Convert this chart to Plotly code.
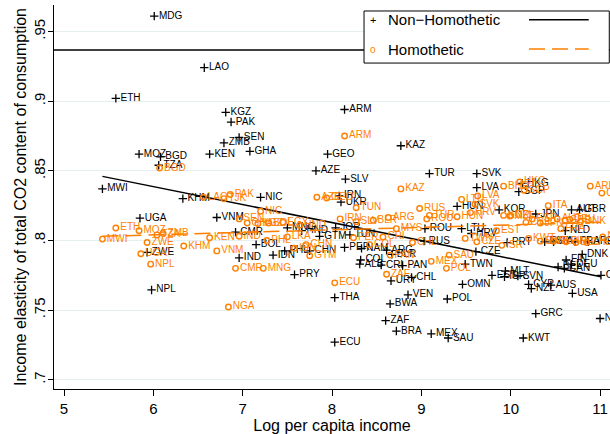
import plotly.graph_objects as go

# Non-homothetic elasticities (black +)
nh_country = ["MDG", "LAO", "ETH", "KGZ", "PAK", "SEN", "ZMB", "GHA", "KEN", "MOZ",
              "BGD", "TZA", "MWI", "ARM", "KAZ", "GEO", "AZE", "SLV", "TUR", "SVK",
              "LVA", "HKG", "SGP", "NIC", "KHM", "IRN", "UKR", "HUN", "KOR", "JPN",
              "AUT", "GBR", "UGA", "VNM", "MNG", "HND", "JOR", "ROU", "LTU", "NLD",
              "CMR", "TUN", "GTM", "HRV", "RUS", "PRT", "ESP", "ITA", "FRA", "ARE",
              "BOL", "PER", "ARG", "PHL", "CHN", "CZE", "ZWE", "NAM", "DNK", "IDN",
              "BLR", "IND", "FIN", "COL", "CRI", "TWN", "DEU", "PAN", "ALB", "BEL",
              "CAN", "MLT", "PRY", "CHE", "EST", "SVN", "ISR", "CHL", "URY", "OMN",
              "CYP", "AUS", "NZL", "NPL", "USA", "VEN", "THA", "POL", "BWA", "GRC",
              "NOR", "ZAF", "BRA", "MEX", "SAU", "KWT", "ECU"]
nh_income = [6.01, 6.57, 5.58, 6.81, 6.87, 6.96, 6.79, 7.08, 6.63, 5.84,
             6.08, 6.06, 5.43, 8.14, 8.77, 7.95, 7.82, 8.15, 9.09, 9.62,
             9.62, 10.13, 10.09, 7.20, 6.33, 8.08, 8.10, 9.40, 9.87, 10.28,
             10.68, 10.77, 5.85, 6.71, 7.50, 7.66, 8.04, 9.04, 9.45, 10.61,
             6.92, 8.20, 7.86, 9.56, 9.03, 9.96, 10.38, 10.48, 10.72, 10.87,
             7.15, 8.14, 8.61, 7.47, 7.75, 9.61, 5.93, 8.33, 10.80, 7.34,
             8.67, 6.96, 10.62, 8.32, 8.55, 9.49, 10.68, 8.79, 8.31, 10.53,
             10.60, 9.94, 7.58, 11.01, 9.79, 10.08, 9.93, 8.89, 8.66, 9.46,
             10.20, 10.45, 10.23, 5.98, 10.69, 8.85, 8.03, 9.29, 8.65, 10.28,
             11.00, 8.60, 8.72, 9.11, 9.30, 10.14, 8.03]
nh_elast = [0.961, 0.924, 0.902, 0.892, 0.885, 0.874, 0.870, 0.864, 0.862, 0.862,
            0.860, 0.854, 0.837, 0.894, 0.868, 0.862, 0.850, 0.844, 0.848, 0.848,
            0.838, 0.841, 0.835, 0.831, 0.830, 0.832, 0.8275, 0.8245, 0.822, 0.819,
            0.822, 0.822, 0.816, 0.8165, 0.809, 0.807, 0.809, 0.8085, 0.8085, 0.807,
            0.806, 0.804, 0.803, 0.805, 0.7995, 0.7985, 0.799, 0.799, 0.799, 0.799,
            0.797, 0.795, 0.793, 0.7925, 0.7925, 0.792, 0.7915, 0.7943, 0.790, 0.7895,
            0.790, 0.7875, 0.786, 0.786, 0.7823, 0.783, 0.783, 0.782, 0.783, 0.781,
            0.780, 0.778, 0.7755, 0.775, 0.775, 0.7745, 0.774, 0.7735, 0.771, 0.7685,
            0.7685, 0.768, 0.7655, 0.7645, 0.762, 0.761, 0.759, 0.758, 0.7545, 0.7475,
            0.744, 0.7425, 0.735, 0.733, 0.730, 0.730, 0.727]

# Homothetic elasticities (orange o)
h_country = ["ARM", "BGD", "KAZ", "HKG", "BHR", "ARE", "SGP", "QAT", "PAK", "LAO",
             "TJK", "AZE", "GEO", "LVA", "LTU", "SVK", "ITA", "TUN", "RUS", "NIC",
             "HRV", "TUR", "HUN", "KOR", "NZL", "MLT", "ESP", "CYP", "JPN", "AUT",
             "GBR", "DEU", "DNK", "FRA", "IRN", "ARG", "BLR", "SLV", "SEN", "GHA",
             "KGZ", "BOL", "EGY", "HND", "ETH", "MYS", "ROU", "MOZ", "EST", "ZMB",
             "TZA", "IND", "LKA", "CRI", "PER", "KEN", "TWN", "KWT", "MWI", "PHL",
             "CZE", "CHL", "ZWE", "SWE", "NLD", "FIN", "BEL", "CHE", "NOR", "CHN",
             "COL", "ISR", "KHM", "IDN", "VNM", "UGA", "SAU", "PAN", "GTM", "MEX",
             "NPL", "CMR", "MNG", "POL", "ZAF", "ECU", "NGA"]
h_income = [8.14, 6.07, 8.77, 10.10, 9.92, 10.89, 10.15, 11.02, 6.86, 6.56,
            6.79, 7.83, 7.94, 9.63, 9.45, 9.60, 10.42, 8.27, 8.98, 7.20,
            9.55, 9.09, 9.40, 9.92, 10.00, 9.99, 10.24, 10.17, 10.33, 10.52,
            10.61, 10.66, 10.78, 10.56, 8.09, 8.63, 8.46, 8.27, 6.96, 7.05,
            7.17, 7.29, 7.45, 7.64, 5.58, 8.72, 9.06, 5.84, 9.84, 6.11,
            6.04, 6.96, 7.50, 8.57, 8.24, 6.63, 9.49, 10.20, 5.43, 7.27,
            9.62, 8.90, 5.93, 10.33, 10.48, 10.62, 10.73, 10.85, 11.03, 7.71,
            8.42, 9.90, 6.34, 7.58, 6.71, 5.86, 9.31, 8.65, 7.75, 9.11,
            5.97, 6.92, 7.23, 9.28, 8.61, 8.03, 6.84]
h_elast = [0.875, 0.852, 0.837, 0.842, 0.839, 0.839, 0.836, 0.834, 0.833, 0.831,
           0.830, 0.831, 0.8305, 0.832, 0.8295, 0.826, 0.825, 0.8235, 0.823, 0.821,
           0.820, 0.818, 0.817, 0.818, 0.818, 0.8175, 0.8155, 0.813, 0.8125, 0.8155,
           0.8145, 0.815, 0.8135, 0.8085, 0.8155, 0.8165, 0.8145, 0.8135, 0.8155, 0.8125,
           0.8122, 0.8125, 0.813, 0.811, 0.809, 0.8085, 0.8155, 0.807, 0.807, 0.805,
           0.804, 0.803, 0.8026, 0.8025, 0.802, 0.802, 0.8015, 0.8015, 0.801, 0.800,
           0.799, 0.7985, 0.7985, 0.7995, 0.7995, 0.799, 0.7985, 0.7985, 0.8025, 0.797,
           0.797, 0.7965, 0.796, 0.7945, 0.7925, 0.7905, 0.7895, 0.7895, 0.789, 0.785,
           0.783, 0.780, 0.780, 0.780, 0.7758, 0.7696, 0.7523]

# linear fits (end points) and reference line
fit_income = [5.43, 11.01]
nh_fit = [0.846, 0.774]
h_fit = [0.803, 0.813]
ref_line = 0.9367

y_ticks = [0.7, 0.75, 0.8, 0.85, 0.9, 0.95]
y_ticktext = [".7", ".75", ".8", ".85", ".9", ".95"]
x_ticks = [5, 6, 7, 8, 9, 10, 11]

BLACK = "#000000"
ORANGE = "rgb(255,127,0)"
FONT = "Liberation Sans, Arial, sans-serif"

fig = go.Figure()

fig.add_trace(go.Scatter(
    x=nh_income, y=nh_elast, text=nh_country, mode="markers+text",
    textposition="middle right", textfont=dict(size=10, color=BLACK, family=FONT),
    marker=dict(symbol="cross-thin", size=6, color=BLACK, line=dict(color=BLACK, width=1.3)),
    name="Non\u2212Homothetic"))
fig.add_trace(go.Scatter(
    x=fit_income, y=nh_fit, mode="lines",
    line=dict(color=BLACK, width=1.5), name="nh fit"))
fig.add_trace(go.Scatter(
    x=h_income, y=h_elast, text=h_country, mode="markers+text",
    textposition="middle right", textfont=dict(size=10, color=ORANGE, family=FONT),
    marker=dict(symbol="circle-open", size=5.5, color=ORANGE, line=dict(color=ORANGE, width=1.4)),
    name="Homothetic"))
fig.add_trace(go.Scatter(
    x=fit_income, y=h_fit, mode="lines",
    line=dict(color=ORANGE, width=1.5, dash="16px,7px"), name="h fit"))

# horizontal reference line
fig.add_shape(type="line", xref="paper", x0=0, x1=1, yref="y", y0=ref_line, y1=ref_line,
              line=dict(color=BLACK, width=1.5))

# legend box, built by hand (Stata two-column legend)
fig.add_shape(type="rect", xref="paper", yref="paper", x0=0.5576, x1=0.9987, y0=0.8488, y1=0.9844,
              fillcolor="white", line=dict(color=BLACK, width=1), layer="above")
fig.add_shape(type="line", xref="paper", yref="paper", x0=0.8543, x1=0.9617, y0=0.9617, y1=0.9617,
              line=dict(color=BLACK, width=1.5), layer="above")
fig.add_shape(type="line", xref="paper", yref="paper", x0=0.8543, x1=0.9617, y0=0.8853, y1=0.8853,
              line=dict(color=ORANGE, width=1.5, dash="16px,7px"), layer="above")
fig.add_annotation(xref="paper", yref="paper", x=0.5743, y=0.9617, text="+", showarrow=False,
                   font=dict(size=11, color=BLACK, family=FONT), xanchor="center", yanchor="middle")
fig.add_annotation(xref="paper", yref="paper", x=0.5743, y=0.8853, text="o", showarrow=False,
                   font=dict(size=10, color=ORANGE, family=FONT), xanchor="center", yanchor="middle")
fig.add_annotation(xref="paper", yref="paper", x=0.5971, y=0.9617, text="Non\u2212Homothetic",
                   showarrow=False, font=dict(size=15, color=BLACK, family=FONT),
                   xanchor="left", yanchor="middle")
fig.add_annotation(xref="paper", yref="paper", x=0.5971, y=0.8853, text="Homothetic",
                   showarrow=False, font=dict(size=15, color=BLACK, family=FONT),
                   xanchor="left", yanchor="middle")

fig.update_layout(
    width=610, height=434,
    margin=dict(l=54, r=0, t=5, b=45),
    plot_bgcolor="white", paper_bgcolor="white",
    showlegend=False,
    font=dict(family=FONT, size=15, color=BLACK),
)
fig.update_xaxes(
    range=[4.888, 11.111], tickvals=x_ticks, showgrid=False, zeroline=False, automargin=False,
    showline=True, linecolor=BLACK, linewidth=1.3, ticks="outside", ticklen=6,
    tickcolor=BLACK, tickfont=dict(size=15),
    title=dict(text="Log per capita income", font=dict(size=16)),
)
fig.update_yaxes(
    range=[0.6934, 0.969], tickvals=y_ticks, ticktext=y_ticktext, tickangle=-90,
    showgrid=True, gridcolor="#E6EFF0", gridwidth=1, zeroline=False, automargin=False,
    showline=True, linecolor=BLACK, linewidth=1.3, ticks="outside", ticklen=5,
    tickcolor=BLACK, tickfont=dict(size=15), ticklabelstandoff=-3,
    title=dict(text="Income elasticity of total CO2 content of consumption", font=dict(size=16),
               standoff=0),
)

# the page body has a default 8px margin; drop it so the figure fills the window
fig.write_html("out.html", config={"displayModeBar": False},
               post_script="document.body.style.margin = '0';")
